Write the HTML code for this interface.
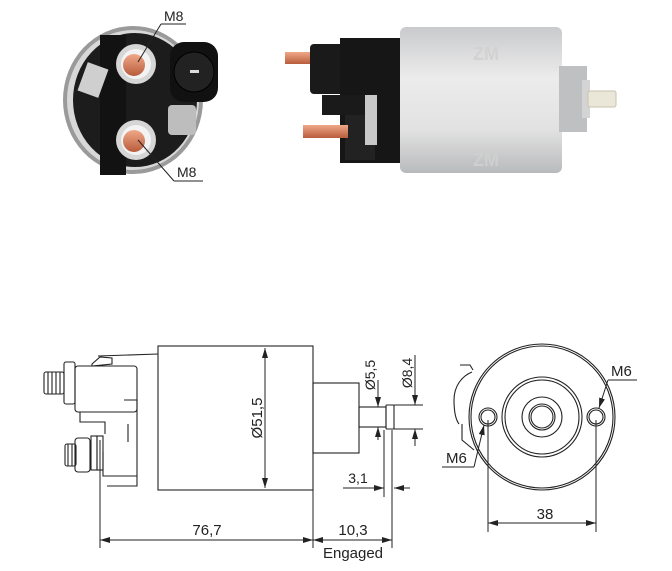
<!DOCTYPE html>
<html><head><meta charset="utf-8"><style>
html,body{margin:0;padding:0;background:#fff;width:672px;height:571px;overflow:hidden}
svg{display:block}
text{font-family:"Liberation Sans",sans-serif;fill:#222}
</style></head><body>
<svg width="672" height="571" viewBox="0 0 672 571" xmlns="http://www.w3.org/2000/svg">
<defs>
<linearGradient id="sil" x1="0" y1="0" x2="0" y2="1">
<stop offset="0" stop-color="#c9cacc"/><stop offset="0.35" stop-color="#ececec"/><stop offset="0.7" stop-color="#e2e2e2"/><stop offset="1" stop-color="#b9babc"/></linearGradient>
<linearGradient id="cu" x1="0" y1="0" x2="0" y2="1"><stop offset="0" stop-color="#f0a888"/><stop offset="1" stop-color="#b85c3c"/></linearGradient>
<marker id="a" viewBox="0 0 10 6" refX="10" refY="3" markerWidth="10" markerHeight="6" orient="auto-start-reverse"><path d="M0,0L10,3L0,6z" fill="#222"/></marker>
</defs>

<ellipse cx="133" cy="100" rx="70" ry="74" fill="#9a9a9a"/>
<ellipse cx="133" cy="100" rx="66" ry="70" fill="#d8d8d8"/>
<ellipse cx="135" cy="100" rx="62" ry="67" fill="#1c1c1c"/>
<rect x="100" y="35" width="26" height="140" fill="#121212"/>
<rect x="82" y="65" width="22" height="30" fill="#cfcfcf" transform="rotate(20 93 80)"/>
<rect x="168" y="105" width="28" height="30" fill="#bdbdbd" rx="4"/>
<rect x="170" y="42" width="48" height="60" rx="14" fill="#111"/>
<circle cx="194" cy="72" r="20" fill="#222" stroke="#000"/>
<rect x="190" y="70" width="9" height="3" fill="#ddd"/>
<circle cx="136" cy="64" r="20" fill="#d6d6d6"/><circle cx="136" cy="64" r="15" fill="#f3f3f3"/><circle cx="134" cy="65" r="11" fill="url(#cu)"/>
<circle cx="136" cy="140" r="20" fill="#d6d6d6"/><circle cx="136" cy="140" r="15" fill="#f3f3f3"/><circle cx="134" cy="141" r="11" fill="url(#cu)"/>
<text x="164" y="21" font-size="14">M8</text>
<line x1="161" y1="24" x2="186" y2="24" stroke="#222"/><line x1="161" y1="24" x2="138" y2="62" stroke="#222"/>
<text x="177" y="177" font-size="14">M8</text>
<line x1="174" y1="181" x2="203" y2="181" stroke="#222"/><line x1="174" y1="181" x2="138" y2="140" stroke="#222"/>

<rect x="285" y="52" width="28" height="12" fill="url(#cu)"/>
<rect x="310" y="44" width="36" height="50" rx="4" fill="#1a1a1a"/>
<rect x="340" y="38" width="60" height="125" fill="#161616"/>
<rect x="322" y="95" width="45" height="20" fill="#1a1a1a"/>
<rect x="345" y="115" width="30" height="45" fill="#222"/>
<rect x="303" y="125" width="45" height="13" fill="url(#cu)"/>
<rect x="365" y="95" width="12" height="50" fill="#c8c8c8"/>
<rect x="400" y="27" width="162" height="146" rx="6" fill="url(#sil)"/>
<rect x="559" y="66" width="28" height="66" fill="#bfc0c2"/>
<rect x="582" y="80" width="8" height="38" fill="#d4d4d4"/>
<rect x="588" y="91" width="28" height="16" rx="2" fill="#eae6d8" stroke="#c8c2ae"/>
<g fill="#d2d2d2" font-weight="bold" font-size="18" style="fill:#d2d2d2"><text x="473" y="60" style="fill:#d2d2d2">ZM</text><text x="473" y="166" style="fill:#cfcfcf">ZM</text></g>

<g fill="none" stroke="#222" stroke-width="1.1">
<rect x="158" y="346" width="155" height="144"/>
<rect x="313" y="383" width="46" height="70"/>
<rect x="359" y="407" width="27" height="20"/>
<rect x="386" y="405" width="8" height="24" rx="1"/>
<line x1="394" y1="405" x2="423" y2="405"/><line x1="394" y1="429" x2="423" y2="429"/>
<path d="M98,356 L158,354"/>
<path d="M92,364 L100,357 L112,358 L112,364 L92,366z"/>
<rect x="75" y="366" width="62" height="46" rx="3"/>
<rect x="64" y="362" width="11" height="42" rx="2"/>
<rect x="44" y="372" width="20" height="22" rx="2"/>
<path d="M48,372v22M52,372v22M56,372v22M60,372v22"/>
<path d="M80,412 v10 h25 v12 M124,400 h13 v86 h-30 M128,424 v18"/>
<rect x="75" y="438" width="15" height="34" rx="3"/>
<rect x="65" y="444" width="11" height="22" rx="2"/>
<path d="M68,444v22M72,444v22"/>
<rect x="91" y="436" width="6" height="34"/><rect x="97" y="436" width="6" height="34"/>
<path d="M103,452 v24 h34"/>
</g>
<g stroke="#222" stroke-width="1" fill="none">
<line x1="265" y1="348" x2="265" y2="488" marker-start="url(#a)" marker-end="url(#a)"/>
<line x1="378" y1="380" x2="378" y2="407" marker-end="url(#a)"/>
<line x1="378" y1="427" x2="378" y2="440" marker-start="url(#a)"/>
<line x1="415" y1="355" x2="415" y2="405" marker-end="url(#a)"/>
<line x1="415" y1="429" x2="415" y2="446" marker-start="url(#a)"/>
<line x1="384" y1="430" x2="384" y2="497"/>
<line x1="343" y1="488" x2="384" y2="488" marker-end="url(#a)"/>
<line x1="394" y1="488" x2="410" y2="488" marker-start="url(#a)"/>
<line x1="100" y1="440" x2="100" y2="548"/>
<line x1="313" y1="490" x2="313" y2="548"/>
<line x1="392" y1="430" x2="392" y2="548"/>
<line x1="100" y1="540" x2="313" y2="540" marker-start="url(#a)" marker-end="url(#a)"/>
<line x1="313" y1="540" x2="392" y2="540" marker-start="url(#a)" marker-end="url(#a)"/>
</g>
<text transform="translate(262,418) rotate(-90)" text-anchor="middle" font-size="15">Ø51,5</text>
<text transform="translate(375,375) rotate(-90)" text-anchor="middle" font-size="14">Ø5,5</text>
<text transform="translate(412,373) rotate(-90)" text-anchor="middle" font-size="14">Ø8,4</text>
<text x="358" y="483" text-anchor="middle" font-size="14">3,1</text>
<text x="207" y="535" text-anchor="middle" font-size="15">76,7</text>
<text x="353" y="535" text-anchor="middle" font-size="15">10,3</text>
<text x="353" y="558" text-anchor="middle" font-size="15">Engaged</text>

<g fill="none" stroke="#222" stroke-width="1.1">
<circle cx="542" cy="417" r="73"/><circle cx="542" cy="417" r="71"/>
<circle cx="542" cy="417" r="40"/><circle cx="542" cy="417" r="37"/>
<circle cx="542" cy="417" r="20"/><circle cx="542" cy="417" r="13"/><circle cx="542" cy="417" r="11"/>
<circle cx="488" cy="417" r="9"/><circle cx="488" cy="417" r="7"/>
<circle cx="596" cy="417" r="9"/><circle cx="596" cy="417" r="7"/>
<path d="M472,372 c-10,4 -18,14 -18,28 c0,12 2,20 5,24 M460,365 h10 l3,5 M462,424 v16 l12,10"/>
</g>
<g stroke="#222" stroke-width="1" fill="none">
<line x1="488" y1="420" x2="488" y2="532"/><line x1="596" y1="420" x2="596" y2="532"/>
<line x1="488" y1="523" x2="596" y2="523" marker-start="url(#a)" marker-end="url(#a)"/>
<line x1="608" y1="380" x2="637" y2="380"/><line x1="608" y1="380" x2="599" y2="408" marker-end="url(#a)"/>
<line x1="442" y1="467" x2="474" y2="467"/><line x1="474" y1="467" x2="484" y2="425" marker-end="url(#a)"/>
</g>
<text x="611" y="376" font-size="15">M6</text>
<text x="446" y="463" font-size="15">M6</text>
<text x="545" y="519" text-anchor="middle" font-size="15">38</text>
</svg>
</body></html>
